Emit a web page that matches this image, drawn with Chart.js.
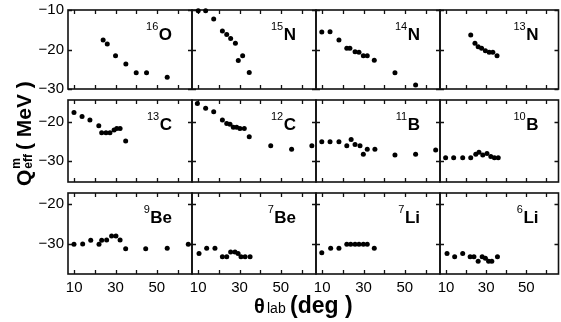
<!DOCTYPE html>
<html><head><meta charset="utf-8">
<script src="https://cdn.jsdelivr.net/npm/chart.js@4"></script>
<style>
html,body{margin:0;padding:0;background:#fff;}
#wrap{position:relative;width:561px;height:322px;overflow:hidden;}
#wrap canvas{position:absolute;left:0;top:0;}
</style>
</head><body><div id="wrap"></div>
<script>
// ---- data (theta_lab in deg, Q_eff^m in MeV) ----
const o16X = [24, 26, 30, 35, 40, 45, 55];
const o16Y = [-17.6, -18.6, -21.6, -23.7, -25.9, -25.9, -27.0];
const n15X = [10, 13.6, 17.5, 21.7, 23.8, 25.7, 28, 29.4, 31.5, 34.7];
const n15Y = [-10.2, -10.2, -12.3, -15.3, -16.2, -17.2, -18.4, -22.8, -21.6, -25.8];
const n14X = [9.8, 13.8, 18.1, 21.9, 23.4, 25.9, 27.8, 29.9, 31.8, 35.2, 45.2, 55.2];
const n14Y = [-15.6, -15.5, -17.6, -19.7, -19.7, -20.6, -20.7, -21.6, -21.6, -22.7, -25.9, -29.0];
const n13X = [22.3, 24.4, 26.0, 27.7, 29.6, 31.5, 33.3, 35.4];
const n13Y = [-16.3, -18.4, -19.3, -19.7, -20.3, -20.7, -20.7, -21.6];
const c13X = [9.9, 13.8, 17.6, 21.9, 23.3, 25.4, 27.3, 29.3, 30.6, 32.2, 34.9];
const c13Y = [-17.6, -18.6, -19.5, -21.0, -22.8, -22.8, -22.8, -22.1, -21.7, -21.7, -24.9];
const c12X = [9.6, 13.6, 17.5, 21.7, 23.8, 25.4, 27.0, 28.6, 30.2, 32.3, 34.7, 45.1, 55.2, 65.0];
const c12Y = [-15.3, -16.5, -17.4, -19.5, -20.4, -20.6, -21.4, -21.4, -21.7, -21.7, -23.8, -26.1, -27.0, -26.1];
const b11X = [9.8, 13.8, 18.1, 21.9, 24.0, 25.9, 28.3, 29.9, 31.8, 35.5, 45.2, 55.2, 64.9];
const b11Y = [-25.1, -25.1, -25.1, -26.1, -24.5, -25.8, -26.1, -28.3, -27.0, -27.0, -28.5, -28.3, -27.2];
const b10X = [9.8, 13.8, 18.3, 22.3, 24.8, 26.4, 28.3, 30.4, 32.3, 34.1, 36.0];
const b10Y = [-29.2, -29.2, -29.2, -29.2, -28.3, -27.8, -28.5, -28.1, -28.9, -29.2, -29.2];
const be9X = [9.9, 14.1, 18.0, 22.0, 23.3, 25.7, 28.1, 30.2, 32.2, 34.9, 44.6, 55.0, 65.2];
const be9Y = [-30.1, -30.0, -29.1, -30.1, -29.1, -29.0, -28.0, -28.0, -29.0, -31.2, -31.2, -31.1, -30.1];
const be7X = [10.4, 14.1, 18.1, 21.7, 23.8, 25.7, 27.8, 29.3, 30.7, 32.7, 35.1];
const be7Y = [-32.4, -31.1, -31.1, -33.2, -33.2, -32.0, -32.0, -32.4, -33.2, -33.2, -33.2];
const li7X = [9.8, 14.1, 18.1, 21.9, 23.8, 25.9, 27.8, 29.9, 31.8, 35.2];
const li7Y = [-32.2, -31.1, -31.1, -30.1, -30.1, -30.1, -30.1, -30.1, -30.1, -31.1];
const li6X = [10.5, 14.3, 18.3, 22.0, 23.9, 26.0, 28.0, 29.6, 31.2, 32.8, 35.6];
const li6Y = [-32.4, -33.2, -32.4, -33.2, -33.2, -34.3, -33.2, -33.6, -34.3, -34.3, -33.2];

// nuclide labels: mass number + symbol
const masses  = ['16','15','14','13','13','12','11','10','9','7','7','6'];
const symbols = ['O','N','N','N','C','C','B','B','Be','Be','Li','Li'];
const seriesX = [o16X, n15X, n14X, n13X, c13X, c12X, b11X, b10X, be9X, be7X, li7X, li6X];
const seriesY = [o16Y, n15Y, n14Y, n13Y, c13Y, c12Y, b11Y, b10Y, be9Y, be7Y, li7Y, li6Y];

// axes / ticks
const xTickLabels = [10, 30, 50];
const xTickMarks = [10, 20, 30, 40, 50, 60];
const yTicksByRow = [[-10, -20, -30], [-20, -30], [-20, -30]];
const yRangeByRow = [[-30, -10], [-35.4, -14.4], [-37.5, -17.3]];
const xRangeByCol = [[7, 67], [7, 67], [7, 67], [7, 66]];

// ---- layout (pixels) ----
const W = 561, H = 322;
const colEdges = [[68, 192], [192, 316], [316, 440], [440, 562]];
const rowEdges = [[10, 89], [100, 182], [193, 274]];
const FONT = '"Liberation Sans", Arial, Helvetica, sans-serif';

const framePlugin = {
  id: 'frame',
  beforeDatasetsDraw(chart, args, o) {
    const {ctx, chartArea: a} = chart;
    const xs = chart.scales.x, ys = chart.scales.y;
    ctx.save();
    ctx.strokeStyle = '#111';
    ctx.lineWidth = 1.6;
    ctx.strokeRect(a.left, a.top, a.right - a.left, a.bottom - a.top);
    ctx.lineWidth = 1.3;
    ctx.beginPath();
    xTickMarks.forEach(v => {
      const px = Math.round(xs.getPixelForValue(v)) + 0.5;
      ctx.moveTo(px, a.top); ctx.lineTo(px, a.top + 4);
      ctx.moveTo(px, a.bottom); ctx.lineTo(px, a.bottom - 4);
    });
    o.yTicks.forEach(v => {
      const py = Math.round(ys.getPixelForValue(v)) + 0.5;
      ctx.moveTo(a.left, py); ctx.lineTo(a.left + 4, py);
      ctx.moveTo(a.right, py); ctx.lineTo(a.right - 4, py);
    });
    ctx.stroke();
    // nuclide label
    ctx.fillStyle = '#000';
    ctx.textBaseline = 'alphabetic';
    ctx.textAlign = 'right';
    ctx.font = 'bold 17px ' + FONT;
    const xr = a.right - 20, yb = a.top + 30;
    ctx.fillText(o.sym, xr, yb);
    const sw = ctx.measureText(o.sym).width;
    ctx.font = '11px ' + FONT;
    ctx.fillText(o.mass, xr - sw - 0.5, yb - 10);
    ctx.restore();
  }
};

const titlePlugin = {
  id: 'titles',
  afterDraw(chart) {
    const ctx = chart.ctx;
    ctx.save();
    ctx.fillStyle = '#000';
    ctx.textBaseline = 'alphabetic';
    ctx.textAlign = 'left';
    // y title (rotated)
    ctx.translate(31, 186);
    ctx.rotate(-Math.PI / 2);
    ctx.font = 'bold 21px ' + FONT;
    ctx.fillText('Q', 0, 0);
    let x = ctx.measureText('Q').width + 1;
    ctx.font = 'bold 12px ' + FONT;
    ctx.fillText('m', x, -11);
    const wm = ctx.measureText('m').width;
    ctx.fillText('eff', x, 1);
    const we = ctx.measureText('eff').width;
    x += Math.max(wm, we) + 4;
    ctx.font = 'bold 21px ' + FONT;
    ctx.fillText('( MeV )', x, 0);
    ctx.setTransform(1, 0, 0, 1, 0, 0);
    // x title
    ctx.font = 'bold 20px ' + FONT;
    ctx.fillText('\u03b8', 254, 313);
    ctx.font = '14px ' + FONT;
    ctx.fillText('lab', 267, 313);
    ctx.font = 'bold 23px ' + FONT;
    ctx.fillText('(deg )', 290, 313);
    ctx.restore();
  }
};

const wrap = document.getElementById('wrap');
for (let i = 0; i < 12; i++) {
  const row = Math.floor(i / 4), col = i % 4;
  const cv = document.createElement('canvas');
  cv.width = W; cv.height = H;
  cv.style.width = W + 'px'; cv.style.height = H + 'px';
  wrap.appendChild(cv);
  const pts = seriesX[i].map((xv, k) => ({x: xv, y: seriesY[i][k]}));
  const [l, r] = colEdges[col], [t, b] = rowEdges[row];
  new Chart(cv, {
    type: 'scatter',
    data: {datasets: [{
      data: pts, clip: false,
      pointRadius: 2.5, pointHoverRadius: 2.5,
      pointBackgroundColor: '#000', pointBorderWidth: 0, borderColor: '#000'
    }]},
    options: {
      responsive: false, animation: false, devicePixelRatio: 1,
      events: [],
      layout: {padding: {left: 0, right: W - r, top: t, bottom: 0}},
      plugins: {
        legend: {display: false}, tooltip: {enabled: false}, title: {display: false},
        frame: {yTicks: yTicksByRow[row], sym: symbols[i], mass: masses[i]}
      },
      scales: {
        x: {
          type: 'linear', position: 'bottom',
          min: xRangeByCol[col][0], max: xRangeByCol[col][1],
          afterFit: s => { s.height = H - b; s.paddingLeft = 0; s.paddingRight = 0; },
          afterBuildTicks: s => { s.ticks = xTickLabels.map(v => ({value: v})); },
          grid: {display: false, drawTicks: false},
          border: {display: false},
          ticks: {
            display: row === 2, autoSkip: false, maxRotation: 0, padding: 5,
            color: '#000', font: {family: FONT, size: 15},
            callback: v => String(v)
          }
        },
        y: {
          type: 'linear', position: 'left',
          min: yRangeByRow[row][0], max: yRangeByRow[row][1],
          afterFit: s => { s.width = l; s.paddingTop = 0; s.paddingBottom = 0; },
          afterBuildTicks: s => { s.ticks = yTicksByRow[row].map(v => ({value: v})); },
          grid: {display: false, drawTicks: false},
          border: {display: false},
          ticks: {
            display: col === 0, autoSkip: false, padding: 4,
            color: '#000', font: {family: FONT, size: 15},
            callback: v => String(v).replace('-', '\u2212')
          }
        }
      }
    },
    plugins: i === 0 ? [framePlugin, titlePlugin] : [framePlugin]
  });
}
</script></body></html>
